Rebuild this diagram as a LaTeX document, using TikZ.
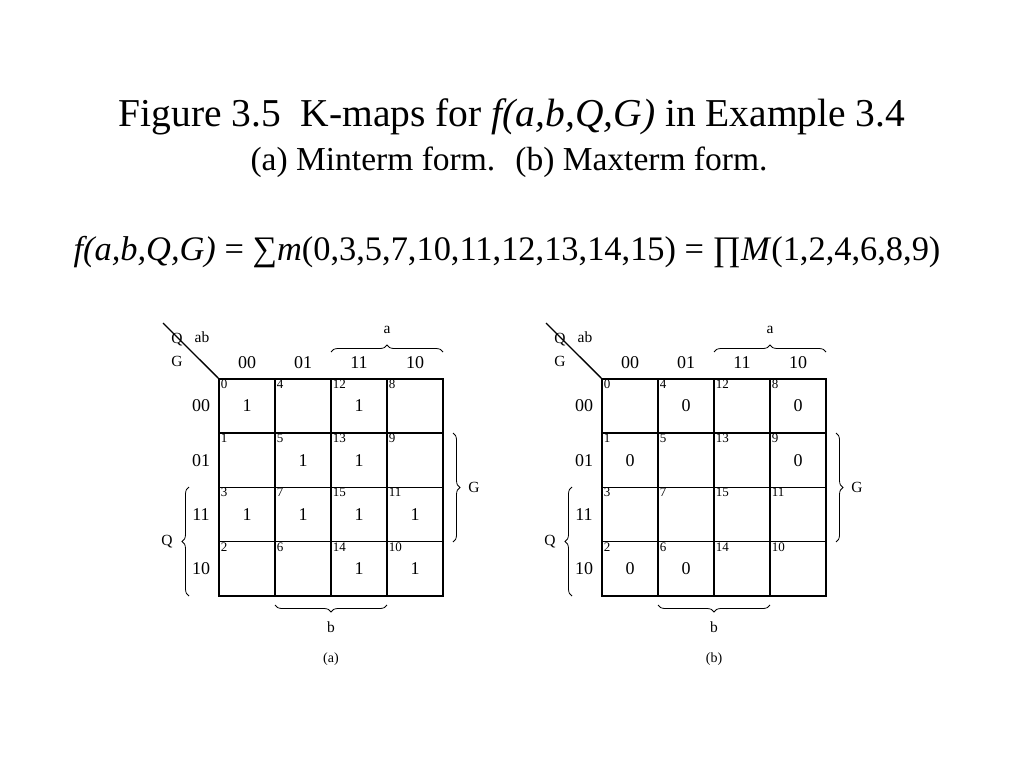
\documentclass[tikz,border=0pt]{standalone}
\usepackage{fontspec}
\setmainfont{Liberation Serif}
\usetikzlibrary{decorations.pathreplacing}
\begin{document}
\begin{tikzpicture}[x=1pt,y=-1pt,
  cell/.style={draw,line width=1.5pt,minimum width=56pt,minimum height=54.25pt,inner sep=0pt},
  idx/.style={anchor=north west,inner sep=0pt,font=\fontsize{13}{13}\selectfont},
  val/.style={font=\fontsize{18}{18}\selectfont,inner sep=0pt},
  hdr/.style={font=\fontsize{18}{18}\selectfont,inner sep=0pt},
  lbl/.style={font=\fontsize{15.5}{15.5}\selectfont,inner sep=0pt},
  brc/.style={decorate,decoration={brace,amplitude=7pt},line width=0.8pt},
  diag/.style={line width=1.3pt}]
\useasboundingbox (0,0) rectangle (1024,768);
\node[font=\fontsize{39.5}{39.5}\selectfont,anchor=base,inner sep=0pt] (t1) at (512,126) {Figure 3.5\enspace K-maps for \textit{f(a,b,Q,G)} in Example 3.4};
\node[font=\fontsize{33.5}{33.5}\selectfont,anchor=base,inner sep=0pt] (t2) at (509,170) {(a) Minterm form.\hspace{0.6em}(b) Maxterm form.};
\node[font=\fontsize{34.4}{34.4}\selectfont,anchor=base,inner sep=0pt] (f) at (507,260) {\textit{f(a,b,Q,G)} = ∑\textit{m}(0,3,5,7,10,11,12,13,14,15) = ∏\textit{M}(1,2,4,6,8,9)};
\newcommand\kmap[3]{%
  \begin{scope}[shift={(#2,0)}]
  \foreach \r/\qg/\rl in {0/0/00,1/1/01,2/3/11,3/2/10}{
    \foreach \c/\ab in {0/0,1/1,2/3,3/2}{
      \pgfmathtruncatemacro\m{4*\ab+\qg}
      \node[cell] (#1\m) at (247+56*\c,406+54.25*\r) {};
      \node[idx] (#1n\m) at ([xshift=2.5pt,yshift=-1.5pt]#1\m.north west) {\m};
    }
    \node[hdr] (#1r\rl) at (201,406+54.25*\r) {\rl};
  }
  \foreach \c/\cl in {0/00,1/01,2/11,3/10}{
    \node[hdr] (#1c\cl) at (247+56*\c,363) {\cl};
  }
  \coordinate (#1d0) at (163,323);
  \draw[diag] (#1d0) -- (#10.north west);
  \node[lbl] (#1Q0) at (177,340) {Q};
  \node[lbl] (#1ab) at (202,337) {ab};
  \node[lbl] (#1G0) at (177,361) {G};
  \coordinate (#1a1) at (331,352); \coordinate (#1a2) at (443,352);
  \draw[brc] (#1a1) -- (#1a2);
  \node[lbl] (#1a) at (387,330) {a};
  \coordinate (#1g1) at (453,433); \coordinate (#1g2) at (453,542);
  \draw[brc] (#1g1) -- (#1g2);
  \node[lbl] (#1G) at (474,487) {G};
  \coordinate (#1q1) at (189,596); \coordinate (#1q2) at (189,487);
  \draw[brc] (#1q1) -- (#1q2);
  \node[lbl] (#1Q) at (167,542) {Q};
  \coordinate (#1b1) at (387,605); \coordinate (#1b2) at (275,605);
  \draw[brc] (#1b1) -- (#1b2);
  \node[lbl] (#1b) at (331,627) {b};
  \node[font=\fontsize{14}{14}\selectfont] (#1cap) at (331,659) {#3};
  \end{scope}}
\kmap{A}{0}{(a)}
\kmap{B}{383}{(b)}
\foreach \m in {0,3,5,7,10,11,12,13,14,15}{\node[val] at (A\m) {1};}
\foreach \m in {1,2,4,6,8,9}{\node[val] at (B\m) {0};}
\end{tikzpicture}
\end{document}
